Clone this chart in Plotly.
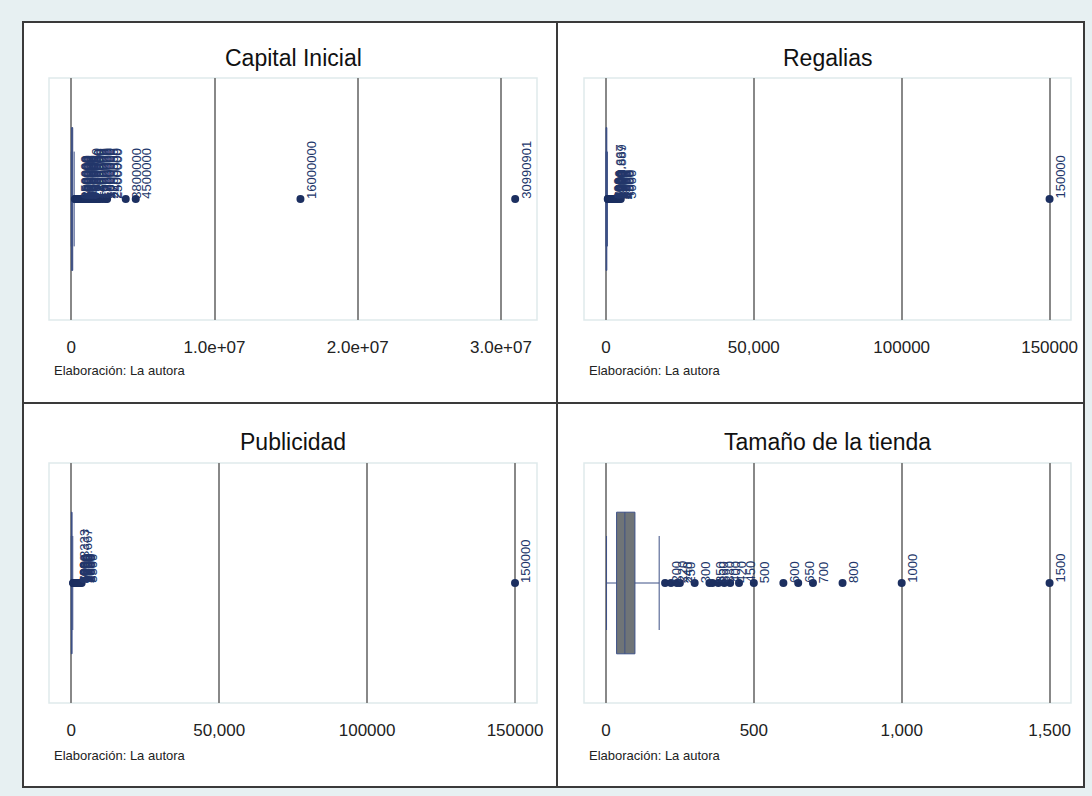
import plotly.graph_objects as go

# ---------------------------------------------------------------- data
titles = ["Capital Inicial", "Regalias", "Publicidad", "Tamaño de la tienda"]
caption = "Elaboración: La autora"

# box summaries: lower whisker, q1, median, q3, upper whisker
capital_box = [0, 20000, 50000, 100000, 200000]
regalias_box = [0, 50, 150, 300, 500]
publicidad_box = [0, 30, 100, 250, 500]
tienda_box = [2, 36, 64, 98, 180]

# observations beyond the whiskers (labelled with their value)
capital_out = [250000, 300000, 350000, 400000, 450000, 500000, 550000, 600000,
               650000, 700000, 750000, 800000, 850000, 900000, 950000,
               1000000, 1100000, 1200000, 1300000, 1400000, 1500000, 1600000,
               1700000, 1800000, 1900000, 2000000, 2200000, 2400000, 2500000,
               3800000, 4500000, 16000000, 30990901]
regalias_out = [600, 700, 800, 900, 1000, 1041.667, 1200, 1250, 1388.889, 1500,
                1600, 1800, 2000, 2200, 2500, 2800, 3000, 3200, 3500, 4000,
                4500, 5000, 150000]
publicidad_out = [600, 700, 800, 833.3333, 900, 1000, 1200, 1250, 1500,
                  1666.667, 1800, 2000, 2200, 2500, 2800, 3000, 3500, 150000]
tienda_out = [200, 220, 240, 250, 300, 350, 360, 380, 400, 420, 450, 500, 600,
              650, 700, 800, 1000, 1500]

capital_ticks = [0, 1e7, 2e7, 3e7]
capital_ticktext = ["0", "1.0e+07", "2.0e+07", "3.0e+07"]
money_ticks = [0, 50000, 100000, 150000]
money_ticktext = ["0", "50,000", "100000", "150000"]
tienda_ticks = [0, 500, 1000, 1500]
tienda_ticktext = ["0", "500", "1,000", "1,500"]

# ---------------------------------------------------------------- layout helpers
W, H = 1092, 796
XSPAN = 1085          # horizontal extent the page actually shows
FONT = "Liberation Sans, Arial, sans-serif"
NAVY = "#1c2f60"
LABEL = "#22366a"
BOXLINE = "#3d5086"
BOXFILL = "#6f7477"
GRID = "#888888"


def fx(p):
    return min(p / XSPAN, 1.0)


def fy(p):
    return 1 - p / H


def label(v):
    return f"{v:.8g}"


panels = [
    dict(title=titles[0], box=capital_box, out=capital_out,
         ticks=capital_ticks, ticktext=capital_ticktext,
         rng=[-1.557e6, 3.2515e7], left=49, right=537, top=78, bottom=320),
    dict(title=titles[1], box=regalias_box, out=regalias_out,
         ticks=money_ticks, ticktext=money_ticktext,
         rng=[-7424, 157250], left=584, right=1071, top=78, bottom=320),
    dict(title=titles[2], box=publicidad_box, out=publicidad_out,
         ticks=money_ticks, ticktext=money_ticktext,
         rng=[-7539, 157430], left=49, right=537, top=463, bottom=703),
    dict(title=titles[3], box=tienda_box, out=tienda_out,
         ticks=tienda_ticks, ticktext=tienda_ticktext,
         rng=[-74.2, 1572.5], left=584, right=1071, top=463, bottom=703),
]

RIGHT_EDGE = 1084     # right side of the outer frame

fig = go.Figure()
annotations = []
shapes = [
    # white chart area inside the outer frame
    dict(type="rect", xref="paper", yref="paper", x0=fx(23), x1=fx(RIGHT_EDGE),
         y0=fy(787), y1=fy(22), fillcolor="white", line_width=0, layer="below"),
]
axes = {}

for i, p in enumerate(panels):
    n = "" if i == 0 else str(i + 1)
    xa, ya = "x" + n, "y" + n
    lo, q1, med, q3, hi = p["box"]

    fig.add_trace(go.Box(
        y=[0], q1=[q1], median=[med], q3=[q3], lowerfence=[lo], upperfence=[hi],
        orientation="h", width=1.18, whiskerwidth=0.664,
        fillcolor=BOXFILL, line=dict(color=BOXLINE, width=1),
        boxpoints=False, showlegend=False, hoverinfo="skip",
        xaxis=xa, yaxis=ya))

    fig.add_trace(go.Scatter(
        x=p["out"], y=[0] * len(p["out"]), mode="markers",
        marker=dict(color=NAVY, size=8), showlegend=False, hoverinfo="skip",
        xaxis=xa, yaxis=ya))

    for v in p["out"]:
        annotations.append(dict(
            x=v, y=0, xref=xa, yref=ya, text=label(v), textangle=-90,
            xanchor="left", yanchor="bottom", showarrow=False,
            xshift=1, yshift=-2, font=dict(family=FONT, size=13, color=LABEL)))

    cx = (p["left"] + p["right"]) / 2
    ttl_y = 58 if p["top"] < 200 else 442
    cap_y = 371 if p["top"] < 200 else 755
    annotations.append(dict(
        x=fx(cx), y=fy(ttl_y), xref="paper", yref="paper", text=p["title"],
        showarrow=False, xanchor="center", yanchor="middle",
        font=dict(family=FONT, size=23, color="#111111")))
    annotations.append(dict(
        x=fx(p["left"] + 3), y=fy(cap_y), xref="paper", yref="paper",
        text=caption, showarrow=False, xanchor="left", yanchor="middle",
        font=dict(family=FONT, size=13, color="#222222")))

    # faint plot-region outline
    shapes.append(dict(type="rect", xref=xa + " domain", yref=ya + " domain",
                       x0=0, x1=1, y0=0, y1=1,
                       line=dict(color="#dfeaec", width=1.5), layer="below"))

    axes["xaxis" + n] = dict(
        domain=[fx(p["left"]), fx(p["right"])], range=p["rng"],
        tickmode="array", tickvals=p["ticks"], ticktext=p["ticktext"],
        showgrid=True, gridcolor=GRID, gridwidth=2, zeroline=False,
        showline=False, ticks="", ticklabelstandoff=15,
        tickfont=dict(family=FONT, size=17, color="#222222"),
        anchor=ya, fixedrange=True)
    axes["yaxis" + n] = dict(
        domain=[fy(p["bottom"]), fy(p["top"])], range=[-1, 1],
        visible=False, anchor=xa, fixedrange=True)

# panel frames
frame = dict(color="#3a3a3a", width=2)
shapes += [
    dict(type="rect", xref="paper", yref="paper", x0=fx(23), x1=fx(RIGHT_EDGE),
         y0=fy(787), y1=fy(22), line=frame),
    dict(type="line", xref="paper", yref="paper", x0=fx(557), x1=fx(557),
         y0=fy(787), y1=fy(22), line=frame),
    dict(type="line", xref="paper", yref="paper", x0=fx(23), x1=fx(RIGHT_EDGE),
         y0=fy(403), y1=fy(403), line=frame),
]

fig.update_layout(
    width=W, height=H, margin=dict(l=0, r=0, t=0, b=0), autosize=False,
    paper_bgcolor="#e7f0f2", plot_bgcolor="rgba(0,0,0,0)",
    annotations=annotations, shapes=shapes, showlegend=False,
    font=dict(family=FONT), **axes)

fig.write_html("out.html", config={"responsive": False, "displayModeBar": False})
